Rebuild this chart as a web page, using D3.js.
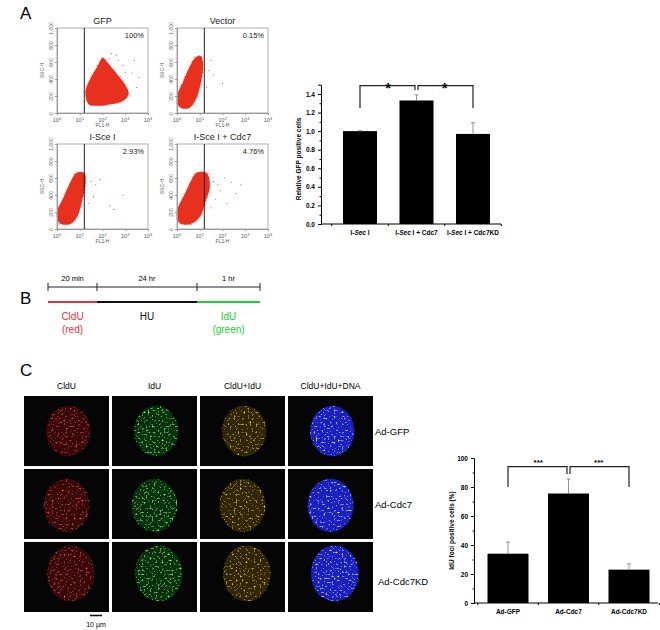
<!DOCTYPE html>
<html><head><meta charset="utf-8">
<script src="https://cdn.jsdelivr.net/npm/d3@7"></script>
<style>body{margin:0;background:#fff}text{font-family:Arial,"Liberation Sans",sans-serif}</style>
</head><body><svg id="c" width="660" height="630"></svg>
<script>
// ---------- data ----------
const gfpCats = ["I-Sec I", "I-Sec I + Cdc7", "I-Sec I + Cdc7KD"];
const gfpValues = [1.0, 1.33, 0.97];
const gfpErrors = [0.005, 0.06, 0.12];
const gfpTicks = [0, 0.2, 0.4, 0.6, 0.8, 1.0, 1.2, 1.4];

const fociCats = ["Ad-GFP", "Ad-Cdc7", "Ad-Cdc7KD"];
const fociValues = [34, 75.5, 23];
const fociErrors = [8, 10, 4];
const fociTicks = [0, 20, 40, 60, 80, 100];

const flowTitles = ["GFP", "Vector", "I-Sce I", "I-Sce I + Cdc7"];
const flowPercents = ["100%", "0.15%", "2.93%", "4.76%"];
// cloud outlines: [log10 FL1-H, SSC-H]
const cloudGFP = [[1.4,100],[1.25,250],[1.5,420],[1.8,560],[2.0,650],[2.2,600],[2.6,470],[3.0,330],[3.15,230],[2.9,140],[2.2,95],[1.7,85]];
const cloudVector = [[0.05,90],[0.0,200],[0.25,360],[0.55,540],[0.8,650],[1.05,670],[1.15,560],[1.05,360],[0.85,170],[0.55,60],[0.2,55]];
const cloudISce = [[0.05,90],[0.0,200],[0.3,380],[0.6,560],[0.85,660],[1.2,660],[1.25,520],[1.1,330],[0.9,150],[0.6,60],[0.2,55]];
const cloudCdc7 = [[0.05,90],[0.0,210],[0.3,390],[0.6,560],[0.85,660],[1.3,660],[1.45,500],[1.25,320],[1.0,140],[0.6,60],[0.2,55]];
const outGFP = [[3.4,620],[3.3,470],[2.6,680],[3.6,420],[2.9,560],[3.2,200],[1.2,140],[3.5,300],[2.4,700],[2.7,620],[3.0,480],[2.3,640]];
const outVector = [[1.4,500],[1.6,450],[1.3,300],[2.0,350],[1.5,620]];
const outISce = [[1.5,560],[1.7,520],[2.3,270],[2.5,230],[2.9,400],[1.6,380],[1.9,580],[1.4,300]];
const outCdc7 = [[1.6,560],[1.8,520],[2.1,600],[2.4,550],[2.8,520],[1.7,350],[2.2,300],[1.9,450],[2.6,420],[1.5,250]];
const flowClouds = [cloudGFP, cloudVector, cloudISce, cloudCdc7];
const flowOutliers = [outGFP, outVector, outISce, outCdc7];
const flowYTicks = [0, 200, 400, 600, 800, 1000];
const flowXTicks = [0, 1, 2, 3, 4];

const timeSegments = ["20 min", "24 hr", "1 hr"];
const timeLabels = [["CldU","(red)"],["HU",""],["IdU","(green)"]];
const timeBounds = [0, 20, 1460, 1520];

const imgColumns = ["CldU", "IdU", "CldU+IdU", "CldU+IdU+DNA"];
const imgRows = ["Ad-GFP", "Ad-Cdc7", "Ad-Cdc7KD"];

// ---------- drawing ----------
const svg = d3.select("#c");
const defs = svg.append("defs");
function speckle(id, r, g, b, a, cut, freq, seed) {
  const f = defs.append("filter").attr("id", id).attr("x", 0).attr("y", 0).attr("width", 1).attr("height", 1);
  f.append("feTurbulence").attr("type", "fractalNoise").attr("baseFrequency", freq).attr("numOctaves", 2).attr("seed", seed).attr("result", "n");
  f.append("feColorMatrix").attr("in", "n").attr("type", "matrix")
    .attr("values", `0 0 0 0 ${r} 0 0 0 0 ${g} 0 0 0 0 ${b} ${a} 0 0 0 -${cut}`).attr("result", "c");
  f.append("feComposite").attr("in", "c").attr("in2", "SourceGraphic").attr("operator", "in");
}
speckle("sp0", 0.85, 0.1, 0.1, 4, 2.3, 0.5, 2);
speckle("sp1", 0.2, 0.85, 0.2, 4, 2.2, 0.5, 5);
speckle("sp2", 0.85, 0.65, 0.1, 4, 2.3, 0.5, 8);
speckle("sp3", 0.85, 0.85, 0.95, 4, 2.3, 0.5, 11);
speckle("spFlow", 0.95, 0.3, 0.25, 5, 2.6, 0.9, 4);

svg.append("text").attr("x", 20).attr("y", 19).attr("font-size", 17).text("A");
svg.append("text").attr("x", 20).attr("y", 304).attr("font-size", 17).text("B");
svg.append("text").attr("x", 20).attr("y", 376).attr("font-size", 17).text("C");

// Flow plots
const flowBoxes = [[57,28],[177,28],[57,144],[177,144]];
flowBoxes.forEach(([bx, by], i) => {
  const w = 91, h = 85;
  const g = svg.append("g");
  const x = d3.scaleLinear().domain([0, 4]).range([bx, bx + w]);
  const y = d3.scaleLinear().domain([0, 1000]).range([by + h, by]);
  g.append("rect").attr("x", bx).attr("y", by).attr("width", w).attr("height", h).attr("fill", "none").attr("stroke", "#999").attr("stroke-width", 0.8);
  const line = d3.line().x(d => x(d[0])).y(d => y(d[1])).curve(d3.curveCatmullRomClosed);
  g.append("path").attr("d", line(flowClouds[i])).attr("fill", "#e8301f").attr("stroke", "#fff").attr("stroke-width", 3).attr("filter", "url(#spFlow)");
  g.append("path").attr("d", line(flowClouds[i])).attr("fill", "#e8301f");
  g.selectAll(".o").data(flowOutliers[i]).join("circle").attr("cx", d => x(d[0])).attr("cy", d => y(d[1])).attr("r", 0.6).attr("fill", "#e8554a");
  g.append("line").attr("x1", x(1.2)).attr("x2", x(1.2)).attr("y1", by).attr("y2", by + h).attr("stroke", "#222").attr("stroke-width", 1);
  const ya = g.append("g").attr("transform", `translate(${bx},0)`).call(d3.axisLeft(y).tickValues(flowYTicks).tickSize(2));
  ya.selectAll(".tick text").attr("font-size", 5).attr("fill", "#666").attr("transform", "rotate(-90)").attr("x", 0).attr("dy", "0.3em").attr("y", -6).attr("text-anchor", "middle");
  ya.selectAll("line,path").attr("stroke", "#999");
  const xa = g.append("g").attr("transform", `translate(0,${by + h})`).call(d3.axisBottom(x).tickValues(flowXTicks).tickSize(2).tickFormat(""));
  xa.selectAll("line,path").attr("stroke", "#999");
  flowXTicks.forEach(t => {
    const tt = g.append("text").attr("x", x(t)).attr("y", by + h + 9).attr("text-anchor", "middle").attr("font-size", 5.5).attr("fill", "#555");
    tt.append("tspan").text("10");
    tt.append("tspan").attr("dy", -2.5).attr("font-size", 4).text(t);
  });
  g.append("text").attr("x", bx + w / 2).attr("y", by + h + 14).attr("text-anchor", "middle").attr("font-size", 5).attr("fill", "#555").text("FL1-H");
  g.append("text").attr("transform", `translate(${bx - 13},${by + h / 2}) rotate(-90)`).attr("text-anchor", "middle").attr("font-size", 5).attr("fill", "#555").text("SSC-H");
  g.append("text").attr("x", bx + w / 2).attr("y", by - 4).attr("text-anchor", "middle").attr("font-size", 9).attr("fill", "#222").text(flowTitles[i]);
  g.append("text").attr("x", bx + w - 4).attr("y", by + 10).attr("text-anchor", "end").attr("font-size", 7.5).attr("fill", "#222").text(flowPercents[i]);
});

function barChart(o) {
  const g = svg.append("g");
  const x = d3.scalePoint().domain(o.cats).range(o.xr);
  const y = d3.scaleLinear().domain(o.yd).range(o.yr);
  g.selectAll(".b").data(o.vals).join("rect")
    .attr("x", (d, i) => x(o.cats[i]) - o.bw / 2).attr("width", o.bw)
    .attr("y", d => y(d)).attr("height", d => y(0) - y(d)).attr("fill", "#000");
  g.selectAll(".e").data(o.vals).join("path")
    .attr("d", (d, i) => { const cx = x(o.cats[i]), t = y(d + o.errs[i]); return `M${cx},${y(d)}V${t}M${cx-2},${t}H${cx+2}`; })
    .attr("stroke", "#777").attr("stroke-width", 0.8).attr("fill", "none");
  const ya = g.append("g").attr("transform", `translate(${o.ax},0)`).call(d3.axisLeft(y).tickValues(o.ticks).tickSize(3).tickFormat(o.fmt));
  ya.selectAll("text").attr("font-size", 6.5).attr("font-weight", "bold");
  const yMinor = o.ticks.slice(1).map((t, i) => (t + o.ticks[i]) / 2);
  g.append("g").attr("transform", `translate(${o.ax},0)`).call(d3.axisLeft(y).tickValues(yMinor).tickSize(1.5).tickFormat("")).select(".domain").remove();
  g.append("line").attr("x1", o.ax).attr("x2", o.xend).attr("y1", y(0)).attr("y2", y(0)).attr("stroke", "#000");
  const mids = [x(o.cats[0]) - (x(o.cats[1]) - x(o.cats[0])) / 2, (x(o.cats[0]) + x(o.cats[1])) / 2, (x(o.cats[1]) + x(o.cats[2])) / 2, x(o.cats[2]) + (x(o.cats[1]) - x(o.cats[0])) / 2];
  g.selectAll(".mt").data(mids).join("line").attr("x1", d => d).attr("x2", d => d).attr("y1", y(0)).attr("y2", y(0) + 2).attr("stroke", "#000");
  g.selectAll(".xl").data(o.cats).join("text").attr("x", d => x(d)).attr("y", y(0) + 11).attr("text-anchor", "middle")
    .attr("font-size", 6.5).attr("font-weight", "bold").each(function(d){ o.labelFn(d3.select(this), d); });
  g.append("text").attr("transform", `translate(${o.ax - 20},${(o.yr[0] + y(o.ticks[o.ticks.length-1])) / 2}) rotate(-90)`)
    .attr("text-anchor", "middle").attr("font-size", 6.5).attr("font-weight", "bold").text(o.ylabel);
  const c0 = x(o.cats[0]), c1 = x(o.cats[1]), c2 = x(o.cats[2]);
  const top = y(o.brTop), leg = y(o.brLeg), mid = y(o.brMid);
  const br = `M${c0},${leg}V${top}H${c1-1.5}V${mid}M${c1+1.5},${mid}V${top}H${c2}V${leg}`;
  g.append("path").attr("d", br).attr("fill", "none").attr("stroke", "#222").attr("stroke-width", 1.2);
  [(c0 + c1) / 2, (c1 + c2) / 2].forEach(cx => g.append("text").attr("x", cx).attr("y", top + o.starDy).attr("text-anchor", "middle").attr("font-size", o.starSize).attr("font-weight", "bold").text(o.star));
}
barChart({cats: gfpCats, vals: gfpValues, errs: gfpErrors, ticks: gfpTicks, xr: [360, 473], bw: 34,
  yd: [0, 1.5], yr: [224, 84.7], ax: 321, xend: 501, fmt: d3.format(".1f"),
  ylabel: "Relative GFP positive cells", brTop: 1.49, brLeg: 1.25, brMid: 1.44, star: "*", starSize: 15, starDy: 7,
  labelFn: (t, d) => { const p = d.split("Sec I"); t.append("tspan").text("I-"); t.append("tspan").attr("font-style", "italic").text("Sec"); t.append("tspan").text(" I" + p[1]); }});
barChart({cats: fociCats, vals: fociValues, errs: fociErrors, ticks: fociTicks, xr: [508, 629], bw: 41,
  yd: [0, 100], yr: [603, 458], ax: 474, xend: 658, fmt: d3.format("d"),
  ylabel: "IdU foci positive cells (%)", brTop: 94, brLeg: 80, brMid: 89, star: "***", starSize: 8, starDy: -2,
  labelFn: (t, d) => t.text(d)});

// Panel B timeline
const tx = d3.scaleOrdinal().domain(timeBounds).range([48, 97, 197, 260]);
const tl = svg.append("g");
tl.append("line").attr("x1", tx(timeBounds[0])).attr("x2", tx(timeBounds[3])).attr("y1", 287).attr("y2", 287).attr("stroke", "#222");
timeBounds.forEach(b => tl.append("line").attr("x1", tx(b)).attr("x2", tx(b)).attr("y1", 283).attr("y2", 291).attr("stroke", "#222"));
const segCol = ["#e8303a", "#111", "#22cc33"];
timeSegments.forEach((s, i) => {
  const a = tx(timeBounds[i]), b = tx(timeBounds[i + 1]), m = (a + b) / 2;
  tl.append("text").attr("x", m).attr("y", 281).attr("text-anchor", "middle").attr("font-size", 7.5).text(s);
  tl.append("line").attr("x1", a).attr("x2", b).attr("y1", 302).attr("y2", 302).attr("stroke", segCol[i]).attr("stroke-width", 2.2);
  tl.append("text").attr("x", m).attr("y", 320).attr("text-anchor", "middle").attr("font-size", 10).attr("fill", segCol[i]).text(timeLabels[i][0]);
  tl.append("text").attr("x", m).attr("y", 333).attr("text-anchor", "middle").attr("font-size", 10).attr("fill", segCol[i]).text(timeLabels[i][1]);
});

// Panel C images
const colX = d3.scalePoint().domain(imgColumns).range([24, 288]);
const rowY = d3.scaleBand().domain(imgRows).range([396, 612]).paddingInner(0.04);
const iw = 85;
const nuc = {"Ad-GFP": [0.52, 0.5, 0.26, 0.36], "Ad-Cdc7": [0.5, 0.52, 0.27, 0.38], "Ad-Cdc7KD": [0.55, 0.45, 0.28, 0.4]};
const baseCol = ["#4a0808", "#083f0c", "#3f3008", "#1c22d0"];
imgColumns.forEach((c, ci) => {
  svg.append("text").attr("x", colX(c) + iw / 2).attr("y", 389).attr("text-anchor", "middle").attr("font-size", 8.5).text(c);
  imgRows.forEach(r => {
    const x0 = colX(c), y0 = rowY(r), h = rowY.bandwidth(), n = nuc[r];
    svg.append("rect").attr("x", x0).attr("y", y0).attr("width", iw).attr("height", h).attr("fill", "#050505");
    svg.append("ellipse").attr("cx", x0 + n[0] * iw).attr("cy", y0 + n[1] * h).attr("rx", n[2] * iw).attr("ry", n[3] * h).attr("fill", baseCol[ci]).attr("opacity", ci === 3 ? 0.9 : 0.75);
    svg.append("ellipse").attr("cx", x0 + n[0] * iw).attr("cy", y0 + n[1] * h).attr("rx", n[2] * iw).attr("ry", n[3] * h).attr("fill", "#fff").attr("filter", `url(#sp${ci})`);
  });
});
imgRows.forEach((r, i) => svg.append("text").attr("x", i === 2 ? 378 : 375).attr("y", rowY(r) + rowY.bandwidth() / 2 + 4 + (i === 2 ? 4 : 0)).attr("font-size", 9.5).text(r));
svg.append("line").attr("x1", 90).attr("x2", 102).attr("y1", 615.5).attr("y2", 615.5).attr("stroke", "#000").attr("stroke-width", 1.5);
svg.append("text").attr("x", 96).attr("y", 627).attr("text-anchor", "middle").attr("font-size", 7).text("10 µm");
</script></body></html>
